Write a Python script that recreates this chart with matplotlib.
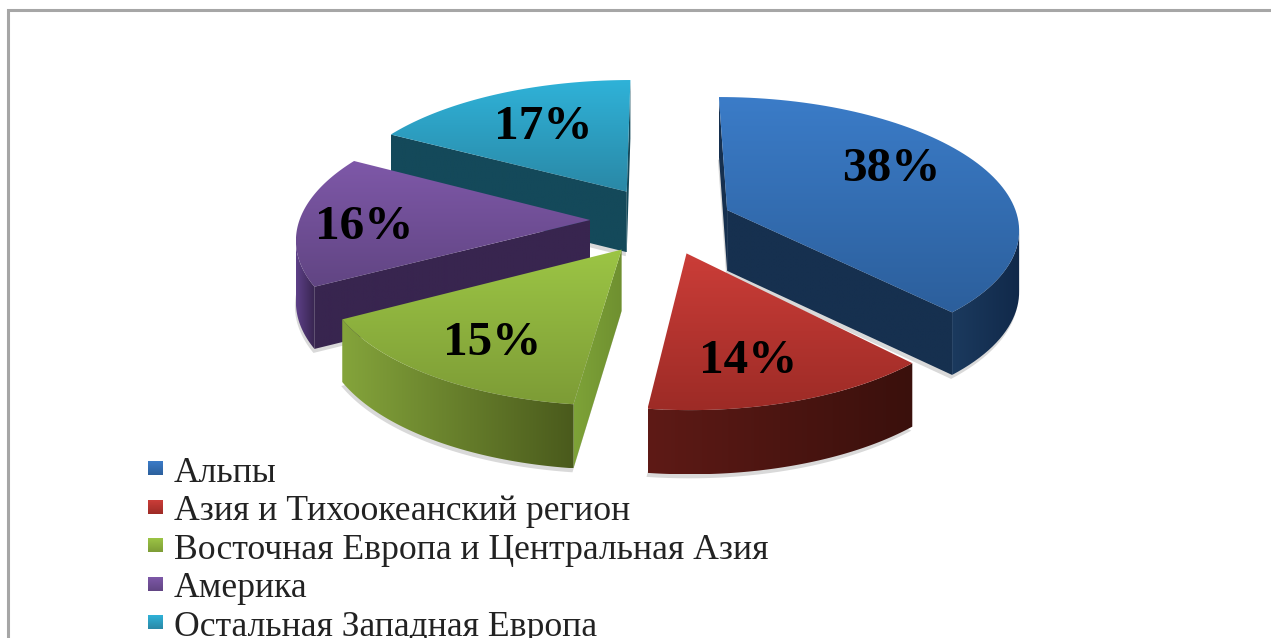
import numpy as np
import matplotlib
matplotlib.use('Agg')
import matplotlib.pyplot as plt
from matplotlib.colors import to_rgb
from matplotlib.patches import Polygon

# Data
categories = ["Альпы", "Азия и Тихоокеанский регион", "Восточная Европа и Центральная Азия",
              "Америка", "Остальная Западная Европа"]
shares = [38, 14, 15, 16, 17]
labels = ["38%", "14%", "15%", "16%", "17%"]

# Styles
top_colors = [("#3b7cc8", "#2c5f9c"), ("#cb3d38", "#9d2b26"), ("#9cc545", "#7d9c36"),
              ("#7e58a8", "#614583"), ("#2fb2d8", "#2a88a6")]
rim_colors = [("#1b3a5e", "#11294a"), ("#5e1a16", "#3a100c"), ("#84a43b", "#4a5a1c"),
              ("#5d4088", "#38254f"), ("#14495a", "#14495a")]
cut_colors = [("#16304f", "#16304f"), ("#5e1a16", "#3a100c"), ("#7ea338", "#6f9030"),
              ("#38254f", "#38254f"), ("#14495a", "#14495a")]
explode = [0.27, 0.25, 0.22, 0.22, 0.22]
# small per-slice corrections to the projection: (dx, dy) in pixels and radius scale
nudge = [(-1, -2), (8, -4), (4, 0), (0, -5), (4, -9)]
radius_scale = [0.99, 0.97, 0.98, 0.985, 1.0]
label_xy = [(891, 169), (748, 361), (492, 343), (364, 227), (543, 127)]
draw_order = [4, 3, 0, 2, 1]

CX, CY = 655, 225
RX, RY = 295, 132
PERSP = 0.13
DEPTH = 61

fig = plt.figure(figsize=(12.71, 6.38), dpi=100)
ax = fig.add_axes([0, 0, 1, 1])
ax.set_xlim(0, 1271)
ax.set_ylim(638, 0)
ax.axis('off')


def project(X, Y):
    s = 1 / (1 + PERSP * Y)
    return CX + RX * X * s, CY - RY * Y * s, DEPTH * s ** 0.3


def fill_gradient(pts, colors, horizontal=False, zorder=1):
    # gradient image clipped to the polygon
    pts = np.asarray(pts)
    c0, c1 = np.array(to_rgb(colors[0])), np.array(to_rgb(colors[1]))
    t = np.linspace(0, 1, 128)
    row = c0[None, :] * (1 - t[:, None]) + c1[None, :] * t[:, None]
    img = row[None, :, :] if horizontal else row[:, None, :]
    x0, x1 = pts[:, 0].min(), pts[:, 0].max()
    y0, y1 = pts[:, 1].min(), pts[:, 1].max()
    patch = Polygon(pts, closed=True, transform=ax.transData, facecolor='none', edgecolor='none')
    ax.add_patch(patch)
    im = ax.imshow(img, extent=[x0, x1, y1, y0], aspect='auto', zorder=zorder, interpolation='bilinear')
    im.set_clip_path(patch)
    ax.set_xlim(0, 1271)
    ax.set_ylim(638, 0)


def draw_slice(i, start, end, zorder):
    mid = np.radians((start + end) / 2)
    ax0, ay0 = explode[i] * np.sin(mid), explode[i] * np.cos(mid)
    theta = np.radians(np.linspace(start, end, 80))
    r = radius_scale[i]
    xs, ys, ts = project(ax0 + r * np.sin(theta), ay0 + r * np.cos(theta))
    px, py, pt = project(ax0, ay0)
    dx, dy = nudge[i]
    xs, ys, px, py = xs + dx, ys + dy, px + dx, py + dy

    # faint shadow under the slice
    shadow = [(px, py + pt)] + list(zip(xs, ys + ts))
    ax.add_patch(Polygon(np.array(shadow) + [-1, 4], closed=True, facecolor='#d9d9d9',
                         edgecolor='none', zorder=1))

    # cut faces that look towards the viewer
    for first, qx, qy, qt in [(True, xs[0], ys[0], ts[0]), (False, xs[-1], ys[-1], ts[-1])]:
        going_left = (qx < px) if first else (px < qx)
        if going_left:
            quad = [(px, py), (qx, qy), (qx, qy + qt), (px, py + pt)]
            fill_gradient(quad, cut_colors[i], horizontal=True, zorder=zorder)

    # outer rim: only the part whose edges run leftwards on screen
    visible = np.diff(xs) < 0
    if visible.any():
        idx = np.where(visible)[0]
        a, b = idx[0], idx[-1] + 1
        rim = list(zip(xs[a:b + 1], ys[a:b + 1])) + list(zip(xs[a:b + 1][::-1], (ys + ts)[a:b + 1][::-1]))
        fill_gradient(rim, rim_colors[i], horizontal=True, zorder=zorder + 0.1)

    top = [(px, py)] + list(zip(xs, ys))
    fill_gradient(top, top_colors[i], zorder=zorder + 0.2)


# Slice angles clockwise from 12 o'clock
edges = np.cumsum([0] + shares) / sum(shares) * 360
for n, i in enumerate(draw_order):
    draw_slice(i, edges[i], edges[i + 1], zorder=2 + n)

for (x, y), text in zip(label_xy, labels):
    ax.text(x, y, text, family='Liberation Serif', fontweight='bold', fontsize=35.5,
            ha='center', va='center', color='black', zorder=20)

# Legend
for k, name in enumerate(categories):
    y = 468 + k * 38.6
    fill_gradient([(148, y - 7), (163, y - 7), (163, y + 7), (148, y + 7)], top_colors[k], zorder=20)
    ax.text(174, y + 13.5, name, family='Liberation Serif', fontsize=25.7, color='#222222',
            ha='left', va='baseline', zorder=20)

# Frame of the slide, open on the right and below
ax.plot([8, 8, 1271], [638, 10, 10], color='#a6a6a6', lw=2.2, solid_joinstyle='miter', zorder=21)

fig.savefig('out.png', dpi=100)
